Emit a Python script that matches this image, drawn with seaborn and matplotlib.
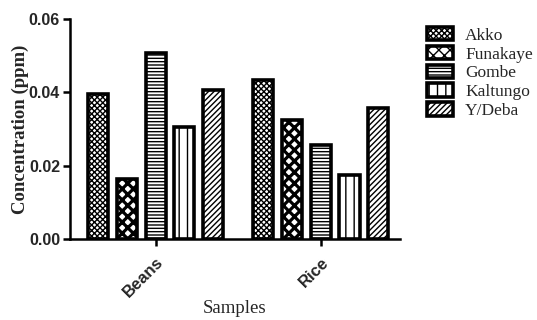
import pandas as pd
import matplotlib.pyplot as plt
import seaborn as sns

samples = ['Beans', 'Rice']
sites = ['Akko', 'Funakaye', 'Gombe', 'Kaltungo', 'Y/Deba']
beans = [0.0395, 0.0164, 0.0507, 0.0305, 0.0406]
rice = [0.0434, 0.0325, 0.0256, 0.0175, 0.0357]
hatches = ['xxxxxx', 'xxx', '-----', '||', '//////']
hatch_lw = [1.0, 2.3, 1.0, 1.0, 1.0]

df = pd.DataFrame({
    'Samples': [samples[0]] * len(sites) + [samples[1]] * len(sites),
    'Site': sites + sites,
    'Concentration': beans + rice,
})

sns.set_style('white')
plt.rcParams['hatch.linewidth'] = 1.0
plt.rcParams['hatch.color'] = 'black'

fig = plt.figure(figsize=(5.37, 3.2), dpi=100)
ax = fig.add_axes([0.130, 0.253, 0.615, 0.687])

sns.barplot(data=df, x='Samples', y='Concentration', hue='Site',
            hue_order=sites, palette=['white'] * 5, width=0.87, gap=0.3,
            edgecolor='black', linewidth=2.6, ax=ax)

for cont, h, hl in zip(ax.containers, hatches, hatch_lw):
    for p in cont.patches:
        p.set_hatch(h)
        p.set_facecolor('white')
        p.set_edgecolor('black')
        if hasattr(p, 'set_hatch_linewidth'):
            p.set_hatch_linewidth(hl)

ax.get_legend().remove()
leg = fig.legend(ax.containers, sites, loc='upper left', bbox_to_anchor=(0.795, 0.915),
                 frameon=False, handlelength=1.5, handleheight=0.8,
                 labelspacing=0.12, handletextpad=0.7, borderpad=0, borderaxespad=0,
                 prop={'family': 'Liberation Serif', 'size': 12.5})

ax.set_ylim(0, 0.06)
ax.set_xlim(-0.52, 1.48)
ax.set_yticks([0, 0.02, 0.04, 0.06])
ax.set_yticklabels(['0.00', '0.02', '0.04', '0.06'])
sns.despine(ax=ax)
for s in ['left', 'bottom']:
    ax.spines[s].set_linewidth(1.8)
    ax.spines[s].set_color('black')

ax.tick_params(axis='both', which='both', direction='out', length=5, width=1.8,
               color='black', bottom=True, left=True, pad=2)
ax.tick_params(axis='x', pad=6)
for lbl in ax.get_yticklabels():
    lbl.set_fontfamily('Liberation Sans')
    lbl.set_fontweight('bold')
    lbl.set_fontsize(11.5)
for lbl in ax.get_xticklabels():
    lbl.set_fontfamily('Liberation Sans')
    lbl.set_fontweight('bold')
    lbl.set_fontsize(12)
    lbl.set_rotation(45)
    lbl.set_ha('right')
    lbl.set_rotation_mode('anchor')

ax.set_ylabel('Concentration (ppm)', family='Liberation Serif', fontweight='bold',
              fontsize=13.5, labelpad=0)
ax.set_xlabel('Samples', family='Liberation Serif', fontsize=13.5, labelpad=0)

fig.savefig('out.png', dpi=100)
